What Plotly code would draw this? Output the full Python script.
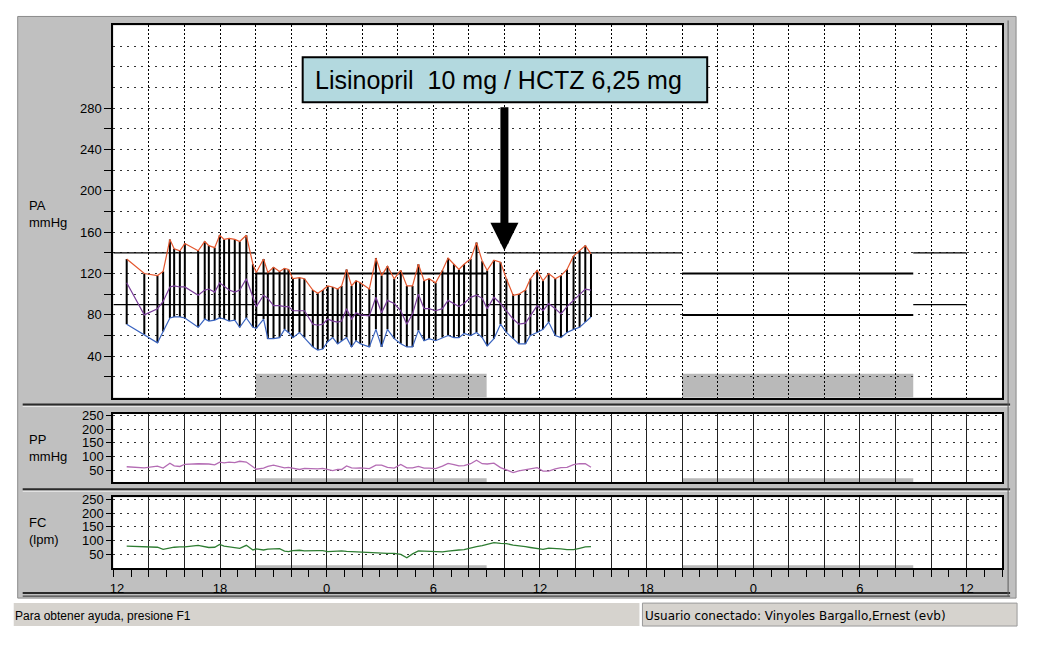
import plotly.graph_objects as go

W, H = 1037, 645
# the capture comes out very slightly shrunk towards the lower right corner;
# positions below are given in screen pixels of the target and corrected here
S = 0.993

# --- data read from the ABPM record (hours counted from day 1, 12 = noon) ---
times = [12.75, 13.74, 14.48, 14.80, 15.18, 15.42, 15.74, 16.02, 16.77, 17.14,
         17.37, 17.70, 17.98, 18.23, 18.51, 18.83, 19.11, 19.48, 19.85, 20.04,
         20.45, 20.69, 21.01, 21.35, 21.63, 21.85, 22.10, 22.47, 22.75, 23.22,
         23.50, 23.78, 24.06, 24.34, 24.62, 24.84, 25.12, 25.40, 25.65, 25.89,
         26.40, 26.77, 27.09, 27.42, 27.80, 28.17, 28.51, 28.83, 29.16, 29.48,
         29.76, 30.13, 30.51, 30.83, 31.16, 31.44, 31.73, 32.10, 32.43, 32.75,
         33.03, 33.41, 33.78, 34.11, 34.49, 34.81, 35.18, 35.46, 35.84, 36.17,
         36.49, 36.86, 37.18, 37.52, 37.89, 38.23, 38.55, 38.87]

sistolica = [134, 120, 118, 122, 153, 144, 142, 149, 142, 151,
             147, 145, 157, 153, 154, 153, 151, 157, 129, 121,
             134, 121, 126, 122, 125, 124, 115, 116, 115, 104,
             101, 104, 108, 107, 105, 108, 124, 108, 113, 111,
             105, 135, 118, 127, 115, 123, 108, 108, 129, 113,
             115, 111, 123, 135, 129, 124, 129, 134, 150, 132,
             123, 133, 131, 115, 99, 100, 104, 115, 123, 113,
             120, 115, 118, 124, 137, 142, 147, 139]

media = [111, 80, 86, 93, 107, 108, 107, 107, 99, 104,
         105, 102, 111, 108, 104, 102, 104, 115, 96, 88,
         99, 96, 89, 89, 88, 88, 84, 84, 84, 71,
         70, 71, 76, 74, 73, 74, 86, 76, 82, 80,
         79, 97, 82, 94, 91, 84, 71, 81, 100, 86,
         86, 84, 86, 94, 91, 88, 91, 97, 99, 96,
         86, 97, 91, 84, 76, 71, 72, 79, 89, 84,
         91, 86, 81, 88, 94, 100, 105, 104]

diastolica = [71, 61, 53, 64, 77, 78, 78, 77, 68, 76,
              74, 75, 77, 76, 74, 75, 68, 77, 68, 67,
              76, 57, 57, 58, 66, 63, 58, 63, 58, 49,
              46, 47, 54, 58, 52, 55, 58, 49, 55, 52,
              49, 66, 49, 66, 57, 52, 49, 49, 65, 55,
              57, 55, 58, 60, 58, 58, 62, 60, 63, 58,
              50, 57, 71, 63, 57, 52, 52, 60, 63, 66,
              73, 60, 58, 63, 66, 68, 73, 78]

presion_pulso = [63, 59, 65, 58, 76, 66, 64, 72, 74, 75,
                 73, 70, 80, 77, 80, 78, 83, 80, 61, 54,
                 58, 64, 69, 64, 59, 61, 57, 53, 57, 55,
                 55, 57, 54, 49, 53, 53, 66, 59, 58, 59,
                 56, 69, 69, 61, 58, 71, 59, 59, 64, 58,
                 58, 56, 65, 75, 71, 66, 67, 74, 87, 74,
                 73, 76, 60, 52, 42, 48, 52, 55, 60, 47,
                 47, 55, 60, 61, 71, 74, 74, 61]

frec_cardiaca = [80, 79, 76, 68, 74, 76, 77, 77, 83, 77,
                 75, 76, 86, 80, 77, 73, 72, 83, 66, 70,
                 66, 69, 71, 71, 62, 60, 64, 65, 63, 62,
                 64, 64, 60, 61, 62, 63, 61, 60, 59, 59,
                 57, 56, 55, 54, 54, 50, 38, 52, 63, 62,
                 59, 59, 59, 62, 65, 66, 67, 74, 78, 82,
                 86, 93, 90, 89, 84, 82, 78, 75, 70, 68,
                 73, 72, 70, 67, 67, 72, 77, 78]

# periods and limits
registro_inicio, registro_fin = 12, 60
noche_inicio = [20, 44]
noche_fin = [33, 57]
limite_dia = [140, 90]
limite_noche = [120, 80]
toma_farmaco = 34
texto_farmaco = "Lisinopril\u00a0 10 mg / HCTZ 6,25 mg"

hora_ticks = [12, 18, 24, 30, 36, 42, 48, 54, 60]
hora_labels = ["12", "18", "0", "6", "12", "18", "0", "6", "12"]

FONT = "Liberation Sans, Arial, sans-serif"
GRIS = '#C0C0C0'


def fx(px):
    return 1 - (W - px) / (S * W)


def fy(py):
    return (H - py) / (S * H)


fig = go.Figure()

# threshold lines (day and night)
dia_ini = [registro_inicio] + noche_fin
dia_fin = noche_inicio + [registro_fin]
for lim in limite_dia:
    xs, ys = [], []
    for a, b in zip(dia_ini, dia_fin):
        xs += [a, b, None]
        ys += [lim, lim, None]
    fig.add_trace(go.Scatter(x=xs, y=ys, mode='lines', line=dict(color='black', width=1.2),
                             hoverinfo='skip', showlegend=False, xaxis='x', yaxis='y'))
for lim in limite_noche:
    xs, ys = [], []
    for a, b in zip(noche_inicio, noche_fin):
        xs += [a, b, None]
        ys += [lim, lim, None]
    fig.add_trace(go.Scatter(x=xs, y=ys, mode='lines', line=dict(color='black', width=2),
                             hoverinfo='skip', showlegend=False, xaxis='x', yaxis='y'))

# vertical bars diastolic -> systolic
bx, by = [], []
for t, s, d in zip(times, sistolica, diastolica):
    bx += [t, t, None]
    by += [d, s, None]
fig.add_trace(go.Scatter(x=bx, y=by, mode='lines', line=dict(color='black', width=2),
                         hoverinfo='skip', showlegend=False, xaxis='x', yaxis='y'))

fig.add_trace(go.Scatter(x=times, y=sistolica, mode='lines', line=dict(color='#E4572E', width=1.2),
                         name='PAS', showlegend=False, xaxis='x', yaxis='y'))
fig.add_trace(go.Scatter(x=times, y=media, mode='lines', line=dict(color='#7A3E9A', width=1.2),
                         name='PAM', showlegend=False, xaxis='x', yaxis='y'))
fig.add_trace(go.Scatter(x=times, y=diastolica, mode='lines', line=dict(color='#3A64C0', width=1.2),
                         name='PAD', showlegend=False, xaxis='x', yaxis='y'))

fig.add_trace(go.Scatter(x=times, y=presion_pulso, mode='lines', line=dict(color='#B46CB4', width=1.3),
                         name='PP', showlegend=False, xaxis='x2', yaxis='y2'))
fig.add_trace(go.Scatter(x=times, y=frec_cardiaca, mode='lines', line=dict(color='#2E7D32', width=1.3),
                         name='FC', showlegend=False, xaxis='x3', yaxis='y3'))

# --- axes ---
grid_horas = list(range(registro_inicio, 63, 2))
lbl = dict(zip(hora_ticks, hora_labels))
# the first label sits a little to the right of the frame, as in the program
lbl[hora_ticks[0]] = '\u00a0\u00a0' + hora_labels[0]
tick_font = dict(family=FONT, size=13, color='black')
dom_x = [fx(110), fx(1002)]

base_x = dict(range=[12, 62], showline=True, mirror=True, linecolor='black', linewidth=2,
              zeroline=False, tickvals=grid_horas, fixedrange=True, domain=dom_x)

xaxis = dict(base_x, anchor='y', showticklabels=False, ticks='',
             showgrid=True, gridcolor='black', griddash='2px,2px', gridwidth=1)
xaxis2 = dict(base_x, anchor='y2', showticklabels=False, ticks='',
              showgrid=True, gridcolor='#222222', gridwidth=1.3)
xaxis3 = dict(base_x, anchor='y3',
              ticktext=[lbl.get(h, '') for h in grid_horas], tickfont=tick_font,
              ticks='outside', ticklen=7, tickcolor='black', tickwidth=1,
              showgrid=True, gridcolor='#222222', gridwidth=1.3,
              minor=dict(dtick=1, tick0=12, ticks='outside', ticklen=7, tickcolor='black', showgrid=False))

pa_ticks = list(range(20, 281, 20))
yaxis = dict(domain=[fy(397), fy(24)], anchor='x', range=[0, 360],
             tickvals=pa_ticks, ticktext=[str(v) if v % 40 == 0 else '' for v in pa_ticks],
             tickfont=tick_font, ticks='outside', ticklen=7, tickcolor='black',
             showgrid=True, gridcolor='#333333', griddash='2px,5px', gridwidth=1,
             minor=dict(tickvals=[300, 320, 340], ticks='', showgrid=True,
                        gridcolor='#333333', griddash='2px,5px', gridwidth=1),
             showline=True, mirror=True, linecolor='black', linewidth=2, zeroline=False, fixedrange=True)

small_ticks = [50, 100, 150, 200, 250]
base_small = dict(tickvals=small_ticks, ticktext=[str(v) for v in small_ticks], tickfont=tick_font,
                  ticks='outside', ticklen=5, tickcolor='black',
                  showgrid=True, gridcolor='#333333', griddash='2px,5px', gridwidth=1,
                  showline=True, mirror=True, linecolor='black', linewidth=2, zeroline=False, fixedrange=True)
yaxis2 = dict(base_small, domain=[fy(482), fy(413)], anchor='x2', range=[6, 257])
yaxis3 = dict(base_small, domain=[fy(568), fy(497)], anchor='x3', range=[0, 257])

shapes = []
# white page around the gray program window
for x0, x1, y0, y1 in [(-20, 1060, -20, 15), (-20, 14, -20, 700), (1016, 1060, -20, 700),
                       (-20, 1060, 598, 700)]:
    shapes.append(dict(type='rect', xref='paper', yref='paper', x0=fx(x0), x1=fx(x1), y0=fy(y1), y1=fy(y0),
                       fillcolor='white', line=dict(width=0), layer='below'))
shapes.append(dict(type='rect', xref='paper', yref='paper', x0=fx(14), x1=fx(1016), y0=fy(598), y1=fy(15),
                   fillcolor='rgba(0,0,0,0)', line=dict(color='#8A8A8A', width=1), layer='below'))
for py, col, w in [(404, '#2A2A2A', 2), (406, '#E8E8E8', 1), (489, '#2A2A2A', 2), (491, '#E8E8E8', 1),
                   (593, '#2A2A2A', 2), (596, '#2A2A2A', 1)]:
    shapes.append(dict(type='line', xref='paper', yref='paper', x0=fx(19), x1=fx(1010), y0=fy(py), y1=fy(py),
                       line=dict(color=col, width=w), layer='below'))
shapes.append(dict(type='line', xref='paper', yref='paper', x0=fx(1008), x1=fx(1008), y0=fy(596), y1=fy(19),
                   line=dict(color='#5A5A5A', width=1), layer='below'))
# status bar
shapes.append(dict(type='rect', xref='paper', yref='paper', x0=fx(10), x1=fx(638), y0=fy(626), y1=fy(603),
                   fillcolor='#D6D3CE', line=dict(width=0), layer='below'))
shapes.append(dict(type='rect', xref='paper', yref='paper', x0=fx(641), x1=fx(1017), y0=fy(626), y1=fy(603),
                   fillcolor='#D6D3CE', line=dict(color='#9A9A9A', width=1), layer='below'))

# night bands
for a, b in zip(noche_inicio, noche_fin):
    for xr, yr, h in [('x', 'y domain', 0.064), ('x2', 'y2 domain', 0.06), ('x3', 'y3 domain', 0.04)]:
        shapes.append(dict(type='rect', xref=xr, yref=yr, x0=a, x1=b, y0=0, y1=h,
                           fillcolor='#B9B9B9', line=dict(width=0), layer='below'))

# drug label box
shapes.append(dict(type='rect', xref='paper', yref='paper', x0=fx(300), x1=fx(706), y0=fy(101), y1=fy(56),
                   fillcolor='#B3D9DF', line=dict(color='black', width=2), layer='above'))

annotations = [
    dict(x=fx(497), y=fy(79), xref='paper', yref='paper', text=texto_farmaco, showarrow=False,
         font=dict(family=FONT, size=25, color='black'), xanchor='center', yanchor='middle'),
    dict(x=toma_farmaco, y=limite_dia[0] + 2, xref='x', yref='y', text='', showarrow=True,
         ax=0, ay=-145, arrowhead=2, arrowsize=0.7, arrowwidth=8, arrowcolor='black'),
    dict(x=fx(23), y=fy(195), xref='paper', yref='paper', text='PA<br>mmHg', showarrow=False, align='left',
         xanchor='left', yanchor='top', font=dict(family=FONT, size=13, color='black')),
    dict(x=fx(23), y=fy(429), xref='paper', yref='paper', text='PP<br>mmHg', showarrow=False, align='left',
         xanchor='left', yanchor='top', font=dict(family=FONT, size=13, color='black')),
    dict(x=fx(23), y=fy(513), xref='paper', yref='paper', text='FC<br>(lpm)', showarrow=False, align='left',
         xanchor='left', yanchor='top', font=dict(family=FONT, size=13, color='black')),
    dict(x=fx(9), y=fy(616), xref='paper', yref='paper', text='Para obtener ayuda, presione F1',
         showarrow=False, xanchor='left', yanchor='middle', font=dict(family=FONT, size=12, color='black')),
    dict(x=fx(642), y=fy(616), xref='paper', yref='paper',
         text='Usuario conectado: Vinyoles Bargallo,Ernest (evb)',
         showarrow=False, xanchor='left', yanchor='middle',
         font=dict(family='DejaVu Sans, sans-serif', size=12, color='black')),
]

fig.update_layout(
    width=W, height=H,
    margin=dict(l=0, r=0, t=0, b=0),
    paper_bgcolor=GRIS,
    plot_bgcolor='white',
    showlegend=False,
    xaxis=xaxis, xaxis2=xaxis2, xaxis3=xaxis3,
    yaxis=yaxis, yaxis2=yaxis2, yaxis3=yaxis3,
    shapes=shapes,
    annotations=annotations,
)

# page without default body margin so the figure sits at the window origin
fig.write_html("out.html", config={'displayModeBar': False},
               post_script="document.body.style.margin='0';document.body.style.overflow='hidden';")
